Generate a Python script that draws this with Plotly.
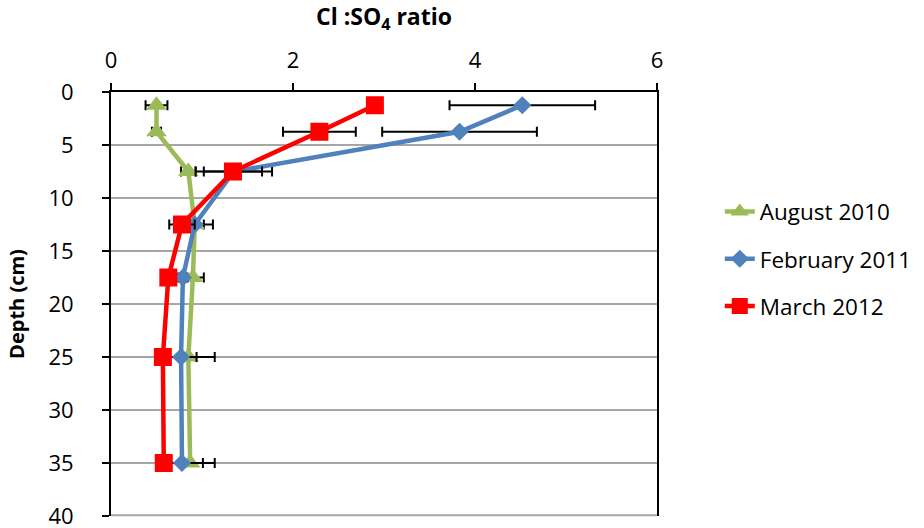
import plotly.graph_objects as go

# Sampling depths (cm), shared by all surveys
depth = [1.25, 3.75, 7.5, 12.5, 17.5, 25, 35]

# Cl:SO4 ratio per survey and its error (±)
aug2010 = [0.50, 0.50, 0.85, 0.92, 0.90, 0.85, 0.87]
aug2010_err = [0.12, 0.05, 0.08, 0.10, 0.12, 0.29, 0.27]

feb2011 = [4.52, 3.83, 1.35, 0.92, 0.79, 0.77, 0.78]
feb2011_err = [0.80, 0.85, 0.42, 0.20, 0.05, 0.17, 0.23]

mar2012 = [2.90, 2.29, 1.34, 0.78, 0.63, 0.57, 0.58]
mar2012_err = [0.05, 0.40, 0.32, 0.14, 0.05, 0.05, 0.05]

series = [
    ("August 2010", aug2010, aug2010_err, "#9BBB59", "triangle-up", 18),
    ("February 2011", feb2011, feb2011_err, "#4F81BD", "diamond", 14),
    ("March 2012", mar2012, mar2012_err, "#FF0000", "square", 18),
]

font_family = "'Open Sans', Lato, sans-serif"

fig = go.Figure()
for name, xs, errs, color, symbol, size in series:
    fig.add_trace(go.Scatter(
        x=xs, y=depth, name=name, mode="lines+markers",
        legendgroup=name,
        line=dict(color=color, width=4.5),
        marker=dict(symbol=symbol, size=size, color=color),
        error_x=dict(type="data", array=errs, visible=True,
                     color="black", thickness=2, width=5),
    ))

# bottom gridline along the lower edge of the plot area
fig.add_shape(type="line", xref="paper", yref="paper",
              x0=0, x1=1, y0=0.002, y1=0.002,
              line=dict(color="#A6A6A6", width=2), layer="above")

fig.update_layout(
    width=924, height=528,
    margin=dict(l=111, r=267, t=92, b=12, autoexpand=False),
    paper_bgcolor="white", plot_bgcolor="white",
    font=dict(family=font_family, size=20, color="black"),
    showlegend=True,
    legend=dict(x=1.115, y=0.768, xanchor="left", yanchor="top",
                font=dict(size=22.5), tracegroupgap=15,
                bgcolor="rgba(0,0,0,0)"),
    xaxis=dict(
        side="top", range=[0, 6], dtick=2, tick0=0, automargin=False,
        showgrid=False, zeroline=False,
        showline=True, linecolor="black", linewidth=2,
        ticks="outside", ticklen=7, tickwidth=1.5, tickcolor="black",
        tickfont=dict(size=22), ticklabelstandoff=6,
        title=dict(text="<b>Cl :SO<sub>4</sub> ratio</b>",
                   font=dict(size=23), standoff=12),
    ),
    yaxis=dict(
        range=[40, 0], dtick=5, tick0=0, automargin=False,
        showgrid=True, gridcolor="#A6A6A6", gridwidth=2,
        zeroline=False,
        showline=True, linecolor="black", linewidth=2, mirror=True,
        ticks="outside", ticklen=7, tickwidth=1.5, tickcolor="black",
        tickfont=dict(size=22), ticklabelstandoff=24,
        ticklabeloverflow="allow",
        title=dict(text="<b>Depth (cm)</b>", font=dict(size=20), standoff=18),
    ),
)

fig.write_html("out.html")
